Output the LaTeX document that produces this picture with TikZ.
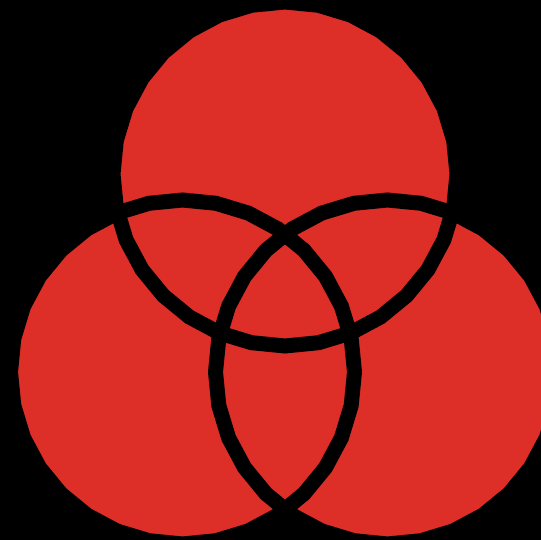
\documentclass[tikz,border=0pt]{standalone}
\definecolor{rojo}{RGB}{222,46,40}
\begin{document}
\begin{tikzpicture}[x=0.02cm, y=-0.02cm] % coordenadas en pixeles, y hacia abajo

        % Fondo negro
        \fill[black] (0,0) rectangle (541,540);
        \useasboundingbox (0,0) rectangle (541,540);
        \clip (0,0) rectangle (541,540);

        \def\radio{172} % Radio de los tres circulos

        % Centros de los circulos
        \coordinate (Arriba) at (285,174);
        \coordinate (Izq) at (182.5,372);
        \coordinate (Der) at (387.5,372);

        % Relleno rojo (poligonos de 32 lados)
        \foreach \centro in {Arriba,Izq,Der}
            \fill[rojo, shift={(\centro)}] plot[samples=33, domain=90:450] (\x:\radio) -- cycle;

        % Bordes negros encima de los rellenos
        \foreach \centro in {Arriba,Izq,Der}
            \draw[black, line width=0.3cm, shift={(\centro)}] plot[samples=33, domain=90:450] (\x:\radio) -- cycle;

    \end{tikzpicture}
\end{document}
